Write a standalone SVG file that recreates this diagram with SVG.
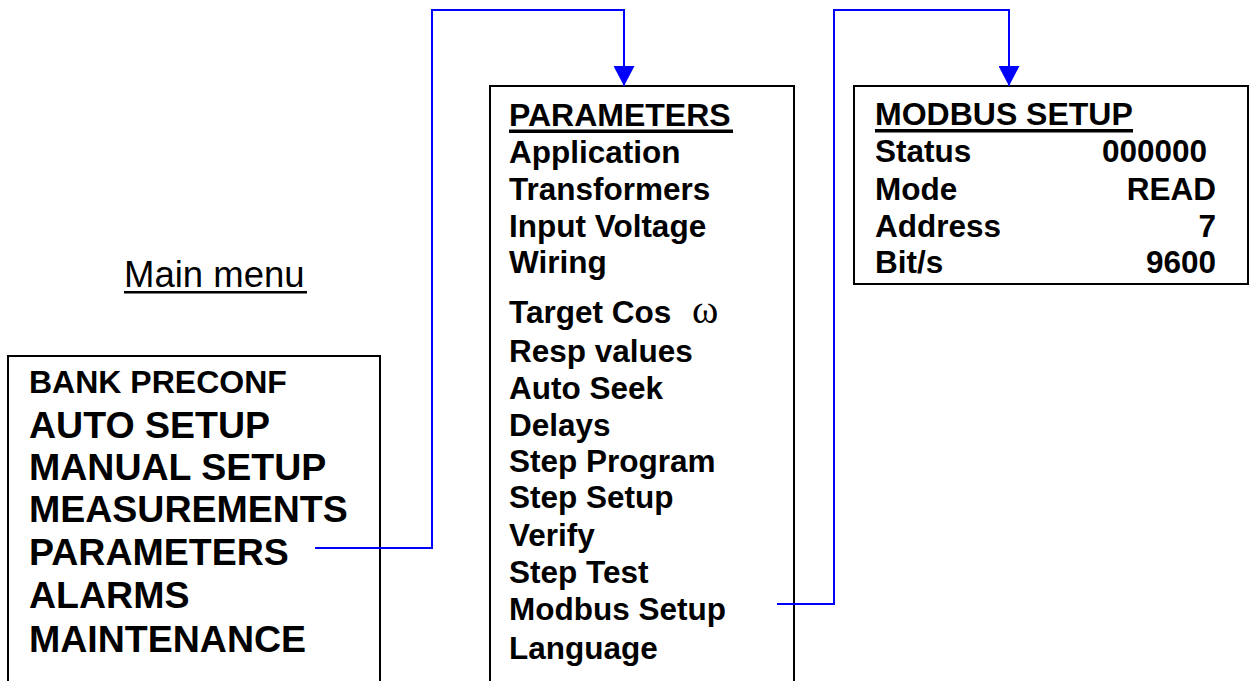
<svg xmlns="http://www.w3.org/2000/svg" width="1249" height="681" viewBox="0 0 1249 681">
  <style>
    .box { fill: #fff; stroke: #000; stroke-width: 2; }
    .b { font-family: "Liberation Sans", Arial, sans-serif; font-weight: bold; fill: #000; }
    .main { font-size: 37.5px; }
    .pre { font-size: 32px; }
    .sub { font-size: 31.5px; }
    .head { font-size: 32px; }
    .r { text-anchor: end; }
    .title { font-family: "Liberation Sans", Arial, sans-serif; font-size: 36.5px; fill: #000; }
    .link { fill: none; stroke: #0000ff; stroke-width: 2; }
  </style>
  <defs>
    <marker id="arrow" viewBox="0 0 20 21" refX="20" refY="10.5" markerWidth="20" markerHeight="21" markerUnits="userSpaceOnUse" orient="auto">
      <path d="M0,0 L20,10.5 L0,21 z" fill="#0000ff"/>
    </marker>
  </defs>
  <rect width="1249" height="681" fill="#fff"/>

  <!-- Main menu caption -->
  <g id="caption">
    <text class="title" x="124" y="287">Main menu</text>
    <rect x="124" y="291" width="183" height="2.5" fill="#000"/>
  </g>

  <!-- Main menu box -->
  <g id="main-menu">
    <rect class="box" x="8" y="356" width="372" height="340"/>
    <text class="b pre" x="29" y="393">BANK PRECONF</text>
    <text class="b main" x="29" y="438">AUTO SETUP</text>
    <text class="b main" x="29" y="480">MANUAL SETUP</text>
    <text class="b main" x="29" y="522">MEASUREMENTS</text>
    <text class="b main" x="29" y="565">PARAMETERS</text>
    <text class="b main" x="29" y="608">ALARMS</text>
    <text class="b main" x="29" y="652">MAINTENANCE</text>
  </g>

  <!-- Parameters submenu -->
  <g id="parameters">
    <rect class="box" x="490" y="86" width="304" height="610"/>
    <text class="b head" x="509" y="126">PARAMETERS</text>
    <rect x="509" y="129.5" width="224" height="3.5" fill="#000"/>
    <text class="b sub" x="509" y="163">Application</text>
    <text class="b sub" x="509" y="200">Transformers</text>
    <text class="b sub" x="509" y="237">Input Voltage</text>
    <text class="b sub" x="509" y="273">Wiring</text>
    <text class="b sub" x="509" y="323">Target Cos</text>
    <text x="692" y="323" font-family="'Liberation Serif', 'Times New Roman', serif" font-size="40" fill="#000">ω</text>
    <text class="b sub" x="509" y="362">Resp values</text>
    <text class="b sub" x="509" y="399">Auto Seek</text>
    <text class="b sub" x="509" y="436">Delays</text>
    <text class="b sub" x="509" y="472">Step Program</text>
    <text class="b sub" x="509" y="508">Step Setup</text>
    <text class="b sub" x="509" y="546">Verify</text>
    <text class="b sub" x="509" y="583">Step Test</text>
    <text class="b sub" x="509" y="620">Modbus Setup</text>
    <text class="b sub" x="509" y="659">Language</text>
  </g>

  <!-- Modbus setup screen -->
  <g id="modbus-setup">
    <rect class="box" x="854" y="86" width="394" height="198"/>
    <text class="b head" x="875" y="125">MODBUS SETUP</text>
    <rect x="875" y="129" width="258" height="3.5" fill="#000"/>
    <text class="b sub" x="875" y="162">Status</text>
    <text class="b sub r" x="1207" y="162">000000</text>
    <text class="b sub" x="875" y="200">Mode</text>
    <text class="b sub r" x="1216" y="200">READ</text>
    <text class="b sub" x="875" y="237">Address</text>
    <text class="b sub r" x="1216" y="237">7</text>
    <text class="b sub" x="875" y="273">Bit/s</text>
    <text class="b sub r" x="1216" y="273">9600</text>
  </g>

  <!-- Menu links -->
  <g id="connectors">
    <path class="link" d="M315,548 H432 V10 H624 V86" marker-end="url(#arrow)"/>
    <path class="link" d="M777,604 H834 V10 H1009 V86" marker-end="url(#arrow)"/>
  </g>
</svg>
